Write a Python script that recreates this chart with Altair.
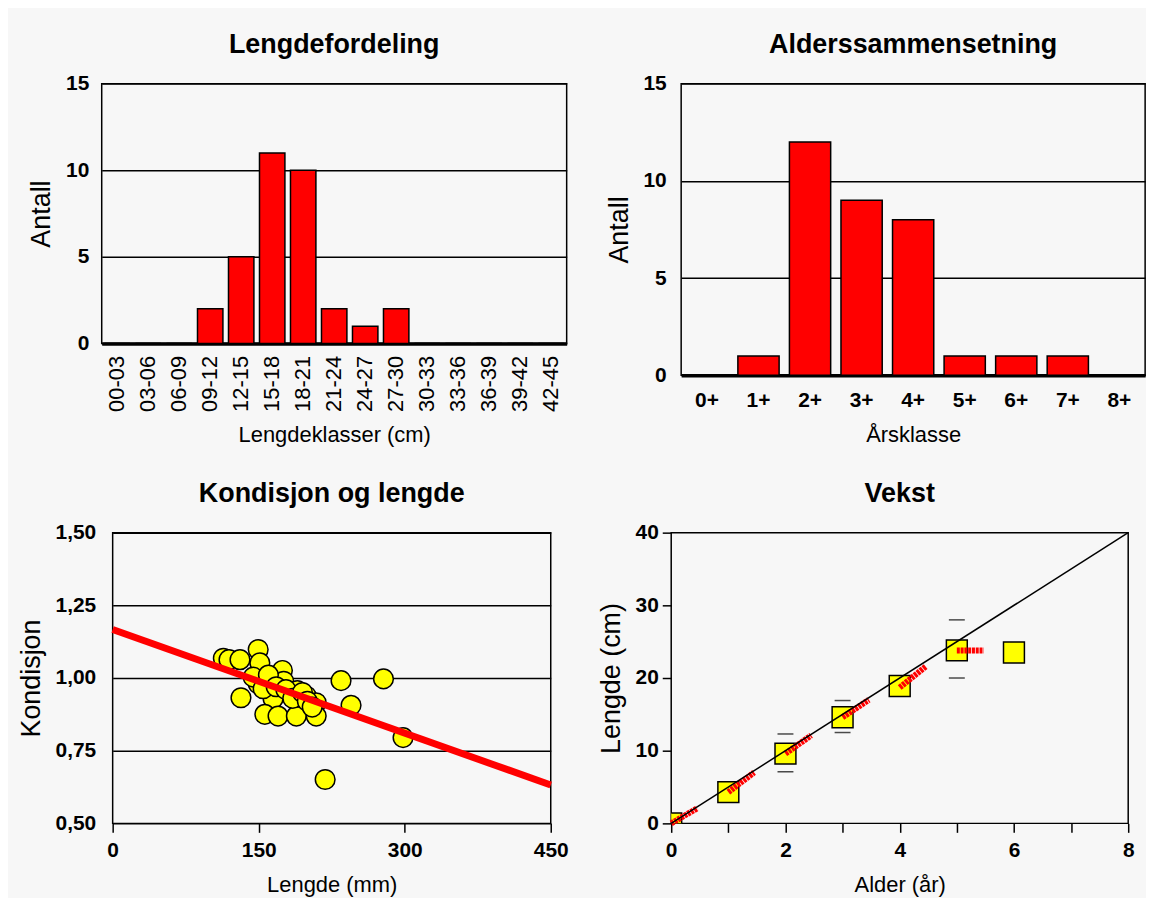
import altair as alt
import pandas as pd

# ---------------- data ----------------
# Panel 1: length distribution
len_classes = ["00-03", "03-06", "06-09", "09-12", "12-15", "15-18", "18-21", "21-24",
               "24-27", "27-30", "30-33", "33-36", "36-39", "39-42", "42-45"]
len_counts = [0, 0, 0, 2, 5, 11, 10, 2, 1, 2, 0, 0, 0, 0, 0]

# Panel 2: age composition
age_classes = ["0+", "1+", "2+", "3+", "4+", "5+", "6+", "7+", "8+"]
age_counts = [0, 1, 12, 9, 8, 1, 1, 1, 0]

# Panel 3: condition vs length
fish_length_mm = [113.7, 119.5, 130.8, 149.5, 151.2, 174.4, 175.7, 159.7, 149.5, 131.8,
                  164.8, 156.3, 169.9, 188.7, 189.7, 198.9, 209.1, 209.1, 234.6, 278.2,
                  244.9, 298.3, 218.3, 144.4, 154.6, 190.3, 160.0, 168.0, 178.0, 185.0,
                  195.0, 200.0, 205.0]
fish_condition = [1.068, 1.063, 1.063, 1.098, 1.052, 1.026, 0.989, 0.995, 0.980, 0.932,
                  0.929, 0.875, 0.869, 0.869, 0.957, 0.938, 0.915, 0.869, 0.991, 0.997,
                  0.906, 0.795, 0.651, 1.003, 0.963, 0.934, 1.010, 0.970, 0.960, 0.930,
                  0.950, 0.920, 0.900]
reg_length = [0, 450]
reg_condition = [1.167, 0.632]

# Panel 4: growth
ages = [0, 1, 2, 3, 4, 5, 6]
mean_length = [0.0, 4.3, 9.6, 14.6, 18.9, 23.8, 23.5]
cap_age = [1, 1, 2, 2, 3, 3, 4, 4, 5, 5]
cap_length = [5.3, 3.3, 12.3, 7.1, 16.9, 12.5, 19.9, 18.0, 28.0, 20.0]
seg_x0 = [0, 1, 2, 3, 4, 5]
seg_y0 = [0.0, 4.3, 9.6, 14.6, 18.7, 23.8]
seg_x1 = [0.46, 1.45, 2.45, 3.46, 4.46, 5.47]
seg_y1 = [2.1, 7.0, 12.1, 17.0, 21.6, 23.8]
ref_age = [0, 8]
ref_length = [0, 40]

RED = "#ff0000"
YELLOW = "#ffff00"
FONT = "Liberation Sans"
YT = 27  # y-axis title size
TOFF = 14  # title offset

# ---------------- panel 1 ----------------
df1 = pd.DataFrame({"cls": len_classes, "n": len_counts})
p1 = alt.Chart(df1, title=alt.TitleParams("Lengdefordeling", offset=TOFF)).mark_bar(
    color=RED, stroke="black", strokeWidth=1.5
).encode(
    x=alt.X("cls:N", sort=len_classes,
            scale=alt.Scale(paddingInner=0.18, paddingOuter=0.09),
            axis=alt.Axis(title="Lengdeklasser (cm)", labelAngle=270, labelAlign="right",
                          labelBaseline="middle", labelFontWeight="normal", labelFontSize=22,
                          ticks=False, labelPadding=12, domainWidth=3.5, titlePadding=13)),
    y=alt.Y("n:Q", scale=alt.Scale(domain=[0, 15]),
            axis=alt.Axis(title="Antall", values=[0, 5, 10, 15], ticks=False, domain=False,
                          labelPadding=13, titleFontSize=YT, titlePadding=10, grid=True))
).properties(width=467, height=261)

# ---------------- panel 2 ----------------
df2 = pd.DataFrame({"cls": age_classes, "n": age_counts})
p2 = alt.Chart(df2, title=alt.TitleParams("Alderssammensetning", offset=TOFF)).mark_bar(
    color=RED, stroke="black", strokeWidth=1.5
).encode(
    x=alt.X("cls:N", sort=age_classes,
            scale=alt.Scale(paddingInner=0.2, paddingOuter=0.1),
            axis=alt.Axis(title="Årsklasse", labelAngle=0, ticks=False, labelPadding=14,
                          domainWidth=3.5, titlePadding=14)),
    y=alt.Y("n:Q", scale=alt.Scale(domain=[0, 15]),
            axis=alt.Axis(title="Antall", values=[0, 5, 10, 15], ticks=False, domain=False,
                          labelPadding=15, titleFontSize=YT, titlePadding=10, grid=True))
).properties(width=466, height=293)

# ---------------- panel 3 ----------------
df3 = pd.DataFrame({"len": fish_length_mm, "k": fish_condition})
df3r = pd.DataFrame({"len": reg_length, "k": reg_condition})
x3 = alt.X("len:Q", scale=alt.Scale(domain=[0, 450], nice=False),
           axis=alt.Axis(title="Lengde (mm)", values=[0, 150, 300, 450], tickSize=9,
                         tickWidth=1.5, domain=False, grid=False, labelPadding=7,
                         labelFlush=False, titlePadding=14))
y3 = alt.Y("k:Q", scale=alt.Scale(domain=[0.5, 1.5], nice=False),
           axis=alt.Axis(title="Kondisjon", values=[0.5, 0.75, 1.0, 1.25, 1.5],
                         labelExpr="replace(format(datum.value, '.2f'), '.', ',')",
                         ticks=False, domain=False, grid=True, labelPadding=17,
                         titleFontSize=YT, titlePadding=10))
pts = alt.Chart(df3).mark_circle(
    fill=YELLOW, stroke="black", strokeWidth=1.5, size=390, opacity=1
).encode(x=x3, y=y3)
reg = alt.Chart(df3r).mark_line(color=RED, strokeWidth=7).encode(x="len:Q", y="k:Q")
p3 = alt.layer(pts, reg, title=alt.TitleParams("Kondisjon og lengde", offset=TOFF)).properties(
    width=440, height=292)

# ---------------- panel 4 ----------------
df4 = pd.DataFrame({"age": ages, "len": mean_length})
df4c = pd.DataFrame({"age": cap_age, "len": cap_length})
df4s = pd.DataFrame({"x0": seg_x0, "y0": seg_y0, "x1": seg_x1, "y1": seg_y1})
df4r = pd.DataFrame({"age": ref_age, "len": ref_length})
x4 = alt.X("age:Q", scale=alt.Scale(domain=[0, 8], nice=False),
           axis=alt.Axis(title="Alder (år)", values=list(range(0, 9)),
                         labelExpr="datum.value % 2 == 0 ? format(datum.value, 'd') : ''",
                         tickSize=9, tickWidth=1.5, domain=False, grid=False,
                         labelPadding=7, labelFlush=True, labelFlushOffset=6,
                         titlePadding=14))
y4 = alt.Y("len:Q", scale=alt.Scale(domain=[0, 40], nice=False),
           axis=alt.Axis(title="Lengde (cm)", values=[0, 10, 20, 30, 40], tickSize=9,
                         tickWidth=1.5, domain=False, grid=False, labelPadding=4,
                         titleFontSize=YT, titlePadding=10))
caps = alt.Chart(df4c).mark_tick(orient="horizontal", size=16, thickness=1.5,
                                 color="black").encode(x=x4, y=y4)
squares = alt.Chart(df4).mark_square(
    fill=YELLOW, stroke="black", strokeWidth=1.5, size=441, opacity=1, clip=True
).encode(x="age:Q", y="len:Q")
segs = alt.Chart(df4s).mark_rule(color=RED, strokeWidth=6, strokeDash=[3, 0.8]).encode(
    x="x0:Q", y="y0:Q", x2="x1:Q", y2="y1:Q")
refl = alt.Chart(df4r).mark_line(color="black", strokeWidth=1.5).encode(x="age:Q", y="len:Q")
p4 = alt.layer(caps, squares, segs, refl,
               title=alt.TitleParams("Vekst", offset=TOFF)).properties(width=459, height=292)

row1 = alt.hconcat(p1, p2, spacing=36)
row2 = alt.hconcat(p3, p4, spacing=26)

chart = alt.vconcat(row1, row2, spacing=32, center=True).properties(
    background="#f7f7f7",
    padding={"left": 8, "top": 20, "right": 0, "bottom": 0},
).configure(font=FONT).configure_view(
    stroke="black", strokeWidth=1.5
).configure_axis(
    labelFontSize=21, labelFontWeight="bold", labelColor="black",
    titleFontSize=22, titleFontWeight="normal", titleColor="black",
    gridColor="black", gridOpacity=1, gridWidth=1.5,
    domainColor="black", tickColor="black"
).configure_title(
    fontSize=27, fontWeight="bold", color="black", anchor="middle"
)

chart.save("out.html", embed_options={"renderer": "svg", "actions": False})
